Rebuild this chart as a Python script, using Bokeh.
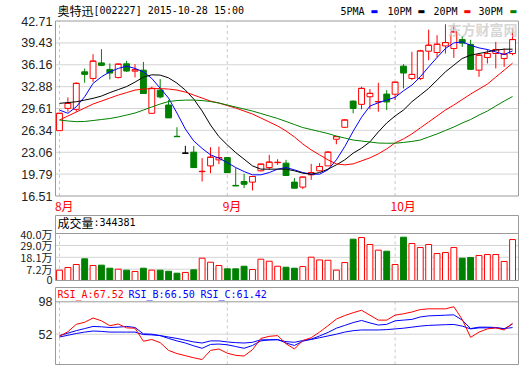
from bokeh.plotting import figure
from bokeh.layouts import column
from bokeh.models import Range1d, FixedTicker, PrintfTickFormatter, Label
from bokeh.embed import file_html
from bokeh.resources import INLINE

# ---------------- data ----------------
opens  = [26.29, 29.63, 29.49, 35.10, 34.11, 36.44, 35.46, 34.26, 36.30, 35.20,
          35.35, 28.89, 32.36, 30.13, 25.45, 22.92, 23.07, 20.15, 21.02, 21.92,
          22.26, 18.10, 18.68, 18.59, 20.28, 20.77, 21.50, 21.43, 18.59, 17.84,
          19.68, 20.28, 21.02, 25.01, 26.80, 30.72, 30.23, 31.37, 30.60, 31.77,
          31.75, 35.95, 34.11, 34.11, 38.19, 37.99, 38.98, 38.59, 39.93, 39.20,
          35.35, 37.25, 37.84, 37.10, 37.84]
highs  = [28.89, 31.28, 33.52, 35.60, 37.74, 38.49, 36.35, 36.35, 36.74, 36.25,
          36.59, 32.86, 34.01, 30.87, 26.80, 24.01, 24.01, 22.17, 23.81, 23.90,
          22.26, 20.68, 19.83, 19.43, 21.35, 22.67, 22.02, 21.92, 19.19, 19.40,
          21.32, 21.43, 23.26, 25.50, 28.00, 30.80, 32.86, 32.52, 33.46, 32.37,
          33.60, 36.25, 38.10, 38.40, 41.42, 40.58, 42.22, 42.07, 40.43, 39.90,
          37.70, 38.44, 39.58, 38.59, 41.57]
lows   = [26.29, 29.13, 29.13, 33.46, 33.61, 35.95, 33.96, 34.11, 35.10, 34.26,
          31.87, 28.80, 31.13, 28.23, 25.40, 22.92, 20.77, 18.68, 19.93, 21.28,
          20.02, 18.04, 17.70, 17.34, 20.20, 20.43, 21.17, 19.58, 17.70, 17.55,
          18.93, 20.20, 21.00, 24.26, 26.70, 28.89, 29.49, 29.49, 29.13, 29.38,
          30.87, 32.62, 33.86, 33.86, 36.84, 37.25, 37.84, 37.19, 38.83, 35.40,
          34.35, 36.35, 35.61, 35.84, 37.59]
closes = [28.89, 30.38, 33.37, 34.75, 36.70, 36.10, 34.95, 36.25, 35.25, 35.40,
          31.87, 32.62, 31.37, 28.23, 25.40, 22.92, 20.77, 20.20, 22.32, 22.26,
          20.02, 18.04, 18.29, 19.43, 21.28, 21.58, 21.55, 19.58, 17.70, 19.34,
          20.02, 20.92, 23.07, 25.40, 27.89, 29.64, 32.62, 31.87, 30.65, 30.62,
          33.55, 34.95, 34.71, 38.23, 39.08, 39.23, 39.48, 41.07, 39.43, 35.50,
          37.59, 37.84, 38.44, 37.74, 39.93]
volume_wan = [6.3, 8.75, 11.5, 16.7, 10.6, 10.9, 8.1, 7.2, 6.3, 5.1,
              8.1, 6.3, 6.3, 5.3, 3.5, 4.2, 6.6, 17.3, 13.6, 10.6,
              7.5, 7.5, 9.9, 6.9, 16.4, 14.5, 9.9, 9.0, 8.1, 9.6,
              18.2, 15.7, 15.4, 6.3, 13.3, 34.8, 36.3, 29.9, 24.7, 23.7,
              11.5, 36.6, 30.8, 27.1, 29.9, 21.6, 22.5, 27.1, 17.3, 17.9,
              19.8, 20.7, 20.7, 14.3, 34.4381]
ma5  = [29.38, 28.89, 29.87, 31.37, 33.37, 34.35, 35.10, 35.61, 35.95, 35.61,
        35.10, 34.11, 32.66, 31.17, 28.93, 26.54, 24.75, 23.64, 22.67, 22.17,
        21.52, 20.77, 20.17, 19.68, 19.68, 20.02, 20.53, 20.77, 20.43, 20.02,
        19.78, 19.78, 20.43, 21.92, 23.90, 26.20, 28.30, 29.98, 30.47, 30.87,
        31.28, 32.26, 33.11, 34.35, 35.84, 37.25, 38.59, 39.43, 39.58, 39.08,
        38.68, 38.44, 38.08, 37.69, 38.23]
ma10 = [30.38, 30.50, 30.62, 30.87, 31.13, 31.47, 31.99, 32.44, 32.89, 33.56,
        34.31, 34.65, 34.61, 34.20, 33.41, 32.37, 31.02, 29.23, 27.14, 25.40,
        24.16, 23.01, 22.02, 21.02, 20.53, 20.53, 20.53, 20.53, 20.28, 19.93,
        19.78, 20.02, 20.53, 21.17, 21.92, 22.92, 23.67, 24.61, 26.10, 27.44,
        28.49, 29.38, 30.62, 31.62, 32.62, 33.86, 35.10, 36.10, 37.10, 37.59,
        37.84, 38.08, 38.34, 38.49, 38.49]
ma20 = [27.89, 28.49, 29.08, 29.68, 30.28, 30.72, 31.17, 31.62, 31.99, 32.37,
        32.52, 32.59, 32.59, 32.52, 32.37, 32.07, 31.62, 31.17, 30.72, 30.43,
        30.05, 29.68, 29.23, 28.78, 28.19, 27.59, 26.99, 26.25, 25.35, 24.30,
        23.41, 22.67, 21.92, 21.32, 21.17, 21.32, 21.77, 22.22, 22.82, 23.56,
        24.46, 25.06, 25.80, 26.70, 27.59, 28.49, 29.38, 30.13, 30.95, 31.77,
        32.52, 33.26, 34.31, 35.35, 36.40]
ma30 = [27.89, 27.74, 27.64, 27.67, 27.81, 27.96, 28.11, 28.34, 28.63, 28.93,
        29.38, 29.83, 30.28, 30.65, 30.80, 30.87, 30.87, 30.80, 30.65, 30.43,
        30.13, 29.83, 29.53, 29.23, 28.86, 28.49, 28.11, 27.67, 27.21, 26.76,
        26.46, 26.16, 25.86, 25.49, 25.19, 24.89, 24.74, 24.59, 24.44, 24.41,
        24.41, 24.53, 24.68, 24.89, 25.35, 25.80, 26.32, 26.84, 27.44, 27.96,
        28.63, 29.23, 29.98, 30.72, 31.40]
rsi_a = [49, 55.5, 66, 69, 75, 71, 64, 66.5, 61, 60.5,
         42, 44.5, 40, 29, 24.5, 21.5, 18.5, 16, 29, 31,
         25, 22, 21, 30, 46, 49, 50, 38.5, 31, 43,
         47, 55, 64, 73.5, 78.5, 82.5, 86, 79, 72, 72,
         79, 81, 83.5, 87, 88, 88, 88, 91, 73, 47.5,
         55, 59.5, 61, 58, 67.52]
rsi_b = [50, 53.5, 57, 60, 63, 62.5, 61.5, 62, 63, 61.5,
         52.5, 52, 50, 46, 42.5, 39.5, 35.5, 32, 37.5, 38,
         37, 34.5, 32, 36, 42.5, 44, 44.5, 39.5, 36, 42,
         45, 49.5, 54.5, 60.5, 64.5, 68.5, 71.5, 68, 65, 66,
         71, 72, 73, 76.5, 78, 78.5, 79, 79.5, 72, 60,
         62, 62, 61.5, 59.5, 66.50]
rsi_c = [48, 50.5, 53, 55, 56.5, 56, 55, 55, 55, 55,
         51.5, 51, 50, 48, 46, 43.5, 41, 39.5, 42.5, 42.5,
         41, 40, 39.5, 40.5, 44, 44, 44, 41.5, 40.5, 43,
         44.5, 47, 49.5, 52, 55, 57, 58, 58, 58, 58.5,
         59.5, 60.5, 62, 63.5, 64.5, 65, 65.5, 65.8, 63.5, 59.5,
         61, 61, 61, 60, 61.42]

month_idx = [0, 20, 40]
month_labels = ["8月", "9月", "10月"]
price_ticks = [16.51, 19.79, 23.06, 26.34, 29.61, 32.88, 36.16, 39.43, 42.71]
vol_ticks = [7.2, 18.1, 29.0, 40.0]
vol_tick_labels = ["7.2万", "18.1万", "29.0万", "40.0万"]
rsi_ticks = [52, 98]
stock_name = "奥特迅"
stock_info = "[002227] 2015-10-28 15:00"
vol_title = "成交量"
last_volume = "344381"
rsi_names = ["RSI_A", "RSI_B", "RSI_C"]
rsi_last = ["67.52", "66.50", "61.42"]
ma_names = ["5PMA", "10PM", "20PM", "30PM"]

# ---------------- styles / layout ----------------
RED, GREEN, BLUE, BLACK = "#ff0000", "#008000", "#0000ff", "#000000"
GRID, BORDER, DASH = "#d4d4d4", "#9a9a9a", "#c8c8c8"
CJK = "Noto Sans CJK SC"
MONO = "DejaVu Sans Mono"
TICKF = "Liberation Sans"
ma_colors = [BLUE, BLACK, RED, GREEN]

n = len(closes)
xs = list(range(n))
W = 520
AXIS_W = 54           # frame starts at page x 54
PX_PER_BAR = 8.39
FIRST_PX = 59.0       # page x of the first candle


def px_to_x(px):
    return (px - FIRST_PX) / PX_PER_BAR


X0, X1 = px_to_x(AXIS_W), px_to_x(W - 1)
BX0, BX1 = px_to_x(55), px_to_x(518)      # panel borders

line_col, fill_col = [], []
for o, c in zip(opens, closes):
    if c > o:
        line_col.append(RED); fill_col.append("white")
    elif c < o:
        line_col.append(GREEN); fill_col.append(GREEN)
    else:
        line_col.append(BLACK); fill_col.append(BLACK)
vol_line = [RED if c >= o else GREEN for o, c in zip(opens, closes)]
vol_fill = ["white" if c >= o else GREEN for o, c in zip(opens, closes)]
body_top = [max(o, c) for o, c in zip(opens, closes)]
body_bot = [min(o, c) for o, c in zip(opens, closes)]


def make_fig(height, yr):
    p = figure(width=W, height=height, x_range=Range1d(X0, X1), y_range=Range1d(*yr),
               output_backend="svg", toolbar_location=None,
               min_border_left=AXIS_W, min_border_right=1, min_border_top=0, min_border_bottom=0)
    p.xaxis.visible = False
    p.grid.visible = False
    p.outline_line_color = None
    p.background_fill_color = "white"
    p.border_fill_color = "white"
    p.yaxis.major_tick_line_color = None
    p.yaxis.minor_tick_line_color = None
    p.yaxis.major_tick_out = 0
    p.yaxis.major_tick_in = 0
    p.yaxis.axis_line_color = None
    p.yaxis.major_label_standoff = 2
    p.yaxis.major_label_text_color = "#222222"
    return p


def text(p, x, y, s, color=BLACK, font=CJK, size="12px", style="normal", alpha=1.0):
    p.add_layout(Label(x=x, y=y, text=s, text_font=font, text_font_size=size, text_color=color,
                       text_font_style=style, text_alpha=alpha,
                       text_baseline="middle", text_align="left"))


# ---------------- price panel (page y 0..214) ----------------
PPX = 175.0 / (42.71 - 16.51)
def py1(py):
    return 42.71 - (py - 20.5) / PPX

H1 = 214
p1 = make_fig(H1, (py1(H1), py1(0)))
p1.yaxis.ticker = FixedTicker(ticks=price_ticks)
p1.yaxis.formatter = PrintfTickFormatter(format="%.2f")
p1.yaxis.major_label_text_font = TICKF
p1.yaxis.major_label_text_font_size = "12.5px"

inner = price_ticks[1:-1]
p1.segment(x0=[BX0] * len(inner), x1=[BX1] * len(inner), y0=inner, y1=inner, line_color=GRID)
p1.segment(x0=month_idx, x1=month_idx, y0=[price_ticks[0]] * 3, y1=[price_ticks[-1]] * 3,
           line_color=DASH, line_dash="3 3")
text(p1, px_to_x(447), py1(28), "东方财富网", color="#cfcfcf", size="14px", style="bold", alpha=0.85)

p1.segment(x0=xs, y0=lows, x1=xs, y1=highs, line_color=line_col, line_width=1)
p1.vbar(x=xs, top=body_top, bottom=body_bot, width=0.7, fill_color=fill_col,
        line_color=line_col, line_width=1)
p1.segment(x0=[v - 0.35 for v in xs], y0=closes, x1=[v + 0.35 for v in xs], y1=closes,
           line_color=line_col, line_width=1)
for ma, col in zip([ma5, ma10, ma20, ma30], ma_colors):
    p1.line(xs, ma, line_color=col, line_width=1)
p1.quad(left=[BX0], right=[BX1], bottom=[price_ticks[0]], top=[price_ticks[-1]],
        fill_color=None, line_color=BORDER)

text(p1, px_to_x(57), py1(10), stock_name)
text(p1, px_to_x(93), py1(10), stock_info, font=MONO, size="10px")
for name, tpx, dpx, col in zip(ma_names, [340, 387, 433, 478], [370, 417, 463, 509], ma_colors):
    text(p1, px_to_x(tpx), py1(11), name, font=MONO, size="10px")
    text(p1, px_to_x(dpx), py1(11), "▬", color=col, font="DejaVu Sans", size="8px")
for m, lab in zip(month_idx, month_labels):
    text(p1, m - 0.55, py1(205), lab, color=RED)

# ---------------- volume panel (page y 214..286) ----------------
VPX = 1.088
def py2(py):
    return 40.0 - (py - 233.0) / VPX

VTOP, VBOT = py2(215), py2(280)
p2 = make_fig(286 - H1, (py2(286), py2(H1)))
p2.yaxis.ticker = FixedTicker(ticks=[VBOT] + vol_ticks)
overrides = {VBOT: "0"}
for t, lab in zip(vol_ticks, vol_tick_labels):
    overrides[t] = lab
p2.yaxis.major_label_overrides = overrides
p2.yaxis.major_label_text_font = CJK
p2.yaxis.major_label_text_font_size = "11px"

vg = vol_ticks[:-1]
p2.segment(x0=[BX0] * len(vg), x1=[BX1] * len(vg), y0=vg, y1=vg, line_color=GRID)
p2.segment(x0=month_idx, x1=month_idx, y0=[VBOT] * 3, y1=[vol_ticks[-1]] * 3,
           line_color=DASH, line_dash="3 3")
p2.vbar(x=xs, top=volume_wan, bottom=VBOT, width=0.7, fill_color=vol_fill, line_color=vol_line,
        line_width=1)
p2.segment(x0=[BX0], x1=[BX1], y0=[vol_ticks[-1]], y1=[vol_ticks[-1]], line_color=BORDER)
p2.quad(left=[BX0], right=[BX1], bottom=[VBOT], top=[VTOP], fill_color=None, line_color=BORDER)
text(p2, px_to_x(57), py2(222), vol_title)
text(p2, px_to_x(93), py2(222), ":" + last_volume, font=MONO, size="10px")

# ---------------- RSI panel (page y 286..365) ----------------
RPX = 32.4 / 46.0
def py3(py):
    return 98.0 - (py - 301.3) / RPX

RTOP, RBOT = py3(287), py3(364)
p3 = make_fig(79, (py3(365), py3(286)))
p3.yaxis.ticker = FixedTicker(ticks=rsi_ticks)
p3.yaxis.major_label_text_font = TICKF
p3.yaxis.major_label_text_font_size = "12.5px"

p3.segment(x0=[BX0], x1=[BX1], y0=[rsi_ticks[0]], y1=[rsi_ticks[0]], line_color=GRID)
p3.segment(x0=month_idx, x1=month_idx, y0=[RBOT] * 3, y1=[rsi_ticks[-1]] * 3,
           line_color=DASH, line_dash="3 3")
p3.line(xs, rsi_c, line_color=BLUE, line_width=1)
p3.line(xs, rsi_b, line_color=BLUE, line_width=1)
p3.line(xs, rsi_a, line_color=RED, line_width=1)
p3.segment(x0=[BX0], x1=[BX1], y0=[rsi_ticks[-1]], y1=[rsi_ticks[-1]], line_color=BORDER)
p3.quad(left=[BX0], right=[BX1], bottom=[RBOT], top=[RTOP], fill_color=None, line_color=BORDER)
for name, val, px, col in zip(rsi_names, rsi_last, [57, 128, 200], [RED, BLUE, BLUE]):
    text(p3, px_to_x(px), py3(294), name + ":" + val, color=col, font=MONO, size="10px")

layout = column(p1, p2, p3, spacing=0)
open("out.html", "w").write(file_html(layout, INLINE))
